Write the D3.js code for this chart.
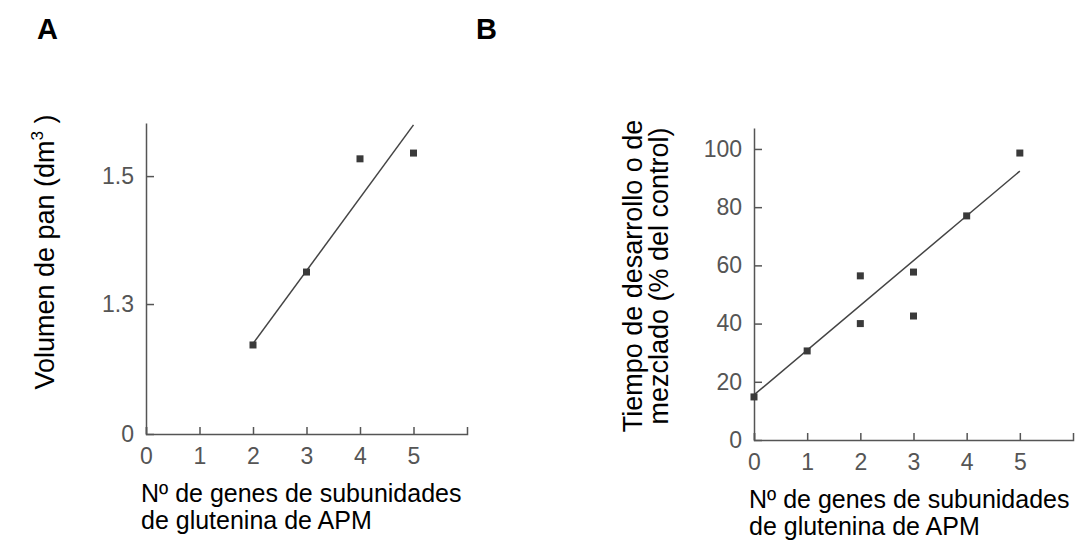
<!DOCTYPE html>
<html lang="es">
<head>
    <meta charset="UTF-8">
    <title>Glutenina APM</title>
    <script src="https://d3js.org/d3.v7.min.js"></script>
    <style>
        body {
            margin: 0;
            background: #fff;
        }
        svg {
            display: block;
            font-family: "Liberation Sans", Arial, sans-serif;
        }
        .axis path, .axis line {
            stroke: #555;
            stroke-width: 1.5;
        }
        .axis text {
            font-size: 23px;
            fill: #555;
            font-family: "Liberation Sans", Arial, sans-serif;
        }
        .title {
            font-size: 25px;
            fill: #000;
        }
        .panel-letter {
            font-size: 29px;
            font-weight: bold;
        }
        .fit {
            stroke: #444;
            stroke-width: 1.5;
        }
        .dot {
            fill: #3a3a3a;
        }
    </style>
</head>
<body>
    <svg width="1089" height="556"></svg>

    <script>
        // eje X compartido
        const geneTicks = [0, 1, 2, 3, 4, 5];

        // A: volumen de pan
        const volGenes = [2, 3, 4, 5];
        const volValues = [1.236, 1.35, 1.527, 1.536];
        const volFitX = [2, 5];
        const volFitY = [1.238, 1.58];
        const volTicks = [0, 1.3, 1.5];

        // B: tiempo de desarrollo / mezclado
        const mixGenes = [0, 1, 2, 2, 3, 3, 4, 5];
        const mixValues = [14.8, 30.6, 56.4, 40, 57.7, 42.6, 77, 98.6];
        const mixFitX = [0, 5];
        const mixFitY = [15.5, 92.4];
        const mixTicks = [0, 20, 40, 60, 80, 100];

        const svg = d3.select("svg");

        function drawPanel(p) {
            const g = svg.append("g");

            const xAxis = d3.axisBottom(p.x)
                .tickValues(geneTicks)
                .tickFormat(d3.format("d"))
                .tickSizeInner(-7)
                .tickSizeOuter(-7)
                .tickPadding(14);

            g.append("g")
                .attr("class", "axis")
                .attr("transform", `translate(0,${p.y.range()[0]})`)
                .call(xAxis);

            const yAxis = d3.axisLeft(p.y)
                .tickValues(p.yTicks)
                .tickFormat(p.yFormat)
                .tickSizeInner(-8)
                .tickSizeOuter(0)
                .tickPadding(12);

            g.append("g")
                .attr("class", "axis")
                .attr("transform", `translate(${p.x.range()[0]},0)`)
                .call(yAxis);

            g.append("line")
                .attr("class", "fit")
                .attr("x1", p.x(p.fitX[0]))
                .attr("y1", p.y(p.fitY[0]))
                .attr("x2", p.x(p.fitX[1]))
                .attr("y2", p.y(p.fitY[1]));

            const s = 7;
            g.selectAll(".dot")
                .data(p.genes)
                .enter()
                .append("rect")
                .attr("class", "dot")
                .attr("x", d => p.x(d) - s / 2)
                .attr("y", (d, i) => p.y(p.values[i]) - s / 2)
                .attr("width", s)
                .attr("height", s);

            // titulo del eje X, dos lineas
            const xt = g.append("text")
                .attr("class", "title")
                .attr("x", p.x.range()[0] - 5)
                .attr("y", p.y.range()[0] + 68);
            xt.append("tspan").text("Nº de genes de subunidades");
            xt.append("tspan")
                .attr("x", p.x.range()[0] - 5)
                .attr("dy", 27)
                .text("de glutenina de APM");

            g.append("text")
                .attr("class", "panel-letter")
                .attr("x", p.letterX)
                .attr("y", 39)
                .text(p.letter);

            return g;
        }

        const xA = d3.scaleLinear().domain([0, 6]).range([146, 467]);
        const yA = d3.scaleLinear().domain([0, 1.2, 1.583]).range([434, 368, 123]);

        const gA = drawPanel({
            x: xA, y: yA,
            yTicks: volTicks,
            yFormat: d => d === 0 ? "0" : d3.format(".1f")(d),
            genes: volGenes, values: volValues,
            fitX: volFitX, fitY: volFitY,
            letter: "A", letterX: 37
        });

        const yt = gA.append("text")
            .attr("class", "title")
            .style("font-size", "27px")
            .attr("transform", "translate(54,252) rotate(-90)")
            .attr("text-anchor", "middle");
        yt.append("tspan").text("Volumen de pan (dm");
        yt.append("tspan").attr("dy", -11).style("font-size", "17px").text("3");
        yt.append("tspan").attr("dy", 11).text(" )");

        const xB = d3.scaleLinear().domain([0, 6]).range([754, 1073]);
        const yB = d3.scaleLinear().domain([0, 107.2]).range([440, 128]);

        const gB = drawPanel({
            x: xB, y: yB,
            yTicks: mixTicks,
            yFormat: d3.format("d"),
            genes: mixGenes, values: mixValues,
            fitX: mixFitX, fitY: mixFitY,
            letter: "B", letterX: 476
        });

        const yt2 = gB.append("text")
            .attr("class", "title")
            .style("font-size", "27px")
            .attr("transform", "translate(642,276) rotate(-90)")
            .attr("text-anchor", "middle");
        yt2.append("tspan").attr("x", 0).text("Tiempo de desarrollo o de");
        yt2.append("tspan").attr("x", 0).attr("dy", 26).text("mezclado (% del control)");
    </script>
</body>
</html>
